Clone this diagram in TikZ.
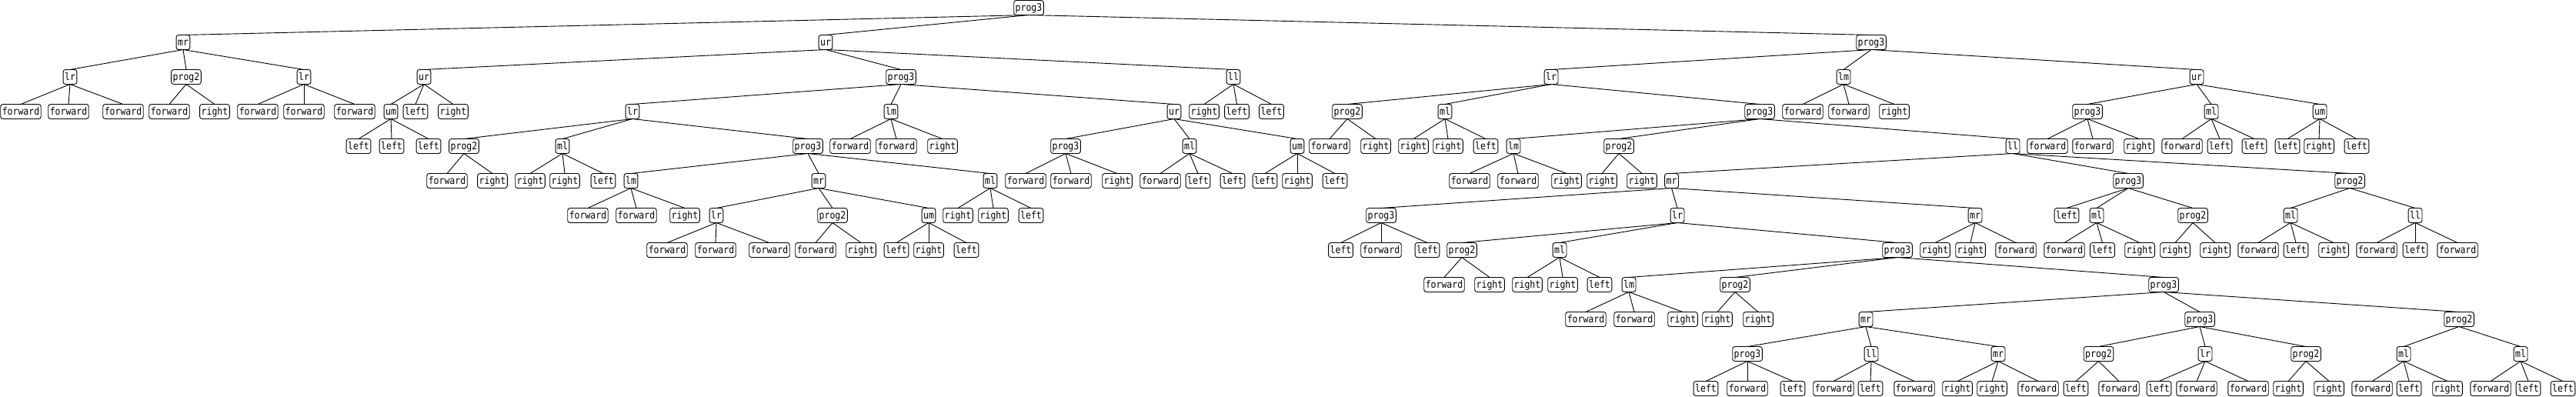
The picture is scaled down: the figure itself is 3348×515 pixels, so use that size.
\documentclass[tikz,border=0pt]{standalone}
\usepackage{fontspec}
\setmonofont{DejaVu Sans Mono}
\tikzset{
  tn/.style={draw, line width=0.9pt, rounded corners=3pt, font=\ttfamily\fontsize{11.5}{12}\selectfont,
    inner xsep=2pt, inner ysep=3pt, text height=11pt, text depth=2pt, outer sep=0pt},
  edge/.style={line width=0.9pt}
}
\newcommand\tn[5]{\node[tn] (#1) at ({#2},{10+45*#3}) {\scalebox{1}[1.15]{#4}};\draw[edge] (#5.south) -- (#1.north);}
\begin{document}
\begin{tikzpicture}[x=1pt,y=-1pt]
\useasboundingbox (0,0) rectangle (3348,515);
\node[tn] (r) at (1337,10) {\scalebox{1}[1.15]{prog3}};
% ---- A
\tn{a}{238}{1}{mr}{r}
\tn{a1}{91}{2}{lr}{a}
\tn{a11}{27}{3}{forward}{a1}
\tn{a12}{89}{3}{forward}{a1}
\tn{a13}{160}{3}{forward}{a1}
\tn{a2}{242}{2}{prog2}{a}
\tn{a21}{220}{3}{forward}{a2}
\tn{a22}{279}{3}{right}{a2}
\tn{a3}{395}{2}{lr}{a}
\tn{a31}{335}{3}{forward}{a3}
\tn{a32}{395}{3}{forward}{a3}
\tn{a33}{461}{3}{forward}{a3}
% ---- B
\tn{b}{1073}{1}{ur}{r}
\tn{b1}{551}{2}{ur}{b}
\tn{b11}{508}{3}{um}{b1}
\tn{b111}{466}{4}{left}{b11}
\tn{b112}{509}{4}{left}{b11}
\tn{b113}{557}{4}{left}{b11}
\tn{b12}{540}{3}{left}{b1}
\tn{b13}{589}{3}{right}{b1}
\tn{b2}{1171}{2}{prog3}{b}
\tn{b21}{822}{3}{lr}{b2}
\tn{b211}{603}{4}{prog2}{b21}
\tn{b2111}{581}{5}{forward}{b211}
\tn{b2112}{640}{5}{right}{b211}
\tn{b212}{731}{4}{ml}{b21}
\tn{b2121}{689}{5}{right}{b212}
\tn{b2122}{734}{5}{right}{b212}
\tn{b2123}{784}{5}{left}{b212}
\tn{b213}{1050}{4}{prog3}{b21}
\tn{b2131}{820}{5}{lm}{b213}
\tn{b21311}{764}{6}{forward}{b2131}
\tn{b21312}{827}{6}{forward}{b2131}
\tn{b21313}{890}{6}{right}{b2131}
\tn{b2132}{1064}{5}{mr}{b213}
\tn{b21321}{931}{6}{lr}{b2132}
\tn{b213211}{867}{7}{forward}{b21321}
\tn{b213212}{930}{7}{forward}{b21321}
\tn{b213213}{1000}{7}{forward}{b21321}
\tn{b21322}{1082}{6}{prog2}{b2132}
\tn{b213221}{1060}{7}{forward}{b21322}
\tn{b213222}{1119}{7}{right}{b21322}
\tn{b21323}{1207}{6}{um}{b2132}
\tn{b213231}{1165}{7}{left}{b21323}
\tn{b213232}{1207}{7}{right}{b21323}
\tn{b213233}{1256}{7}{left}{b21323}
\tn{b2133}{1287}{5}{ml}{b213}
\tn{b21331}{1245}{6}{right}{b2133}
\tn{b21332}{1291}{6}{right}{b2133}
\tn{b21333}{1340}{6}{left}{b2133}
\tn{b22}{1158}{3}{lm}{b2}
\tn{b221}{1105}{4}{forward}{b22}
\tn{b222}{1165}{4}{forward}{b22}
\tn{b223}{1225}{4}{right}{b22}
\tn{b23}{1526}{3}{ur}{b2}
\tn{b231}{1385}{4}{prog3}{b23}
\tn{b2311}{1333}{5}{forward}{b231}
\tn{b2312}{1392}{5}{forward}{b231}
\tn{b2313}{1452}{5}{right}{b231}
\tn{b232}{1546}{4}{ml}{b23}
\tn{b2321}{1508}{5}{forward}{b232}
\tn{b2322}{1557}{5}{left}{b232}
\tn{b2323}{1602}{5}{left}{b232}
\tn{b233}{1686}{4}{um}{b23}
\tn{b2331}{1644}{5}{left}{b233}
\tn{b2332}{1686}{5}{right}{b233}
\tn{b2333}{1735}{5}{left}{b233}
\tn{b3}{1603}{2}{ll}{b}
\tn{b31}{1565}{3}{right}{b3}
\tn{b32}{1607.5}{3}{left}{b3}
\tn{b33}{1652.5}{3}{left}{b3}
% ---- C
\tn{c}{2432}{1}{prog3}{r}
\tn{c1}{2016}{2}{lr}{c}
\tn{c11}{1751}{3}{prog2}{c1}
\tn{c111}{1728}{4}{forward}{c11}
\tn{c112}{1788}{4}{right}{c11}
\tn{c12}{1878}{3}{ml}{c1}
\tn{c121}{1837}{4}{right}{c12}
\tn{c122}{1882}{4}{right}{c12}
\tn{c123}{1931}{4}{left}{c12}
\tn{c13}{2287}{3}{prog3}{c1}
\tn{d1}{1967}{4}{lm}{c13}
\tn{d11}{1910}{5}{forward}{d1}
\tn{d12}{1973}{5}{forward}{d1}
\tn{d13}{2036}{5}{right}{d1}
\tn{d2}{2104}{4}{prog2}{c13}
\tn{d21}{2082}{5}{right}{d2}
\tn{d22}{2134}{5}{right}{d2}
\tn{d3}{2616}{4}{ll}{c13}
\tn{e1}{2172.5}{5}{mr}{d3}
\tn{e11}{1795}{6}{prog3}{e1}
\tn{e111}{1742.5}{7}{left}{e11}
\tn{e112}{1795}{7}{forward}{e11}
\tn{e113}{1855}{7}{left}{e11}
\tn{e12}{2180}{6}{lr}{e1}
\tn{f1}{1900}{7}{prog2}{e12}
\tn{f11}{1877}{8}{forward}{f1}
\tn{f12}{1936}{8}{right}{f1}
\tn{f2}{2027}{7}{ml}{e12}
\tn{f21}{1985}{8}{right}{f2}
\tn{f22}{2031}{8}{right}{f2}
\tn{f23}{2079}{8}{left}{f2}
\tn{f3}{2466}{7}{prog3}{e12}
\tn{g1}{2117}{8}{lm}{f3}
\tn{g11}{2061}{9}{forward}{g1}
\tn{g12}{2124}{9}{forward}{g1}
\tn{g13}{2187}{9}{right}{g1}
\tn{g2}{2255}{8}{prog2}{f3}
\tn{g21}{2232}{9}{right}{g2}
\tn{g22}{2285}{9}{right}{g2}
\tn{g3}{2812}{8}{prog3}{f3}
\tn{h1}{2425}{9}{mr}{g3}
\tn{h11}{2271}{10}{prog3}{h1}
\tn{h111}{2217}{11}{left}{h11}
\tn{h112}{2271}{11}{forward}{h11}
\tn{h113}{2330}{11}{left}{h11}
\tn{h12}{2432}{10}{ll}{h1}
\tn{h121}{2383}{11}{forward}{h12}
\tn{h122}{2431}{11}{left}{h12}
\tn{h123}{2488}{11}{forward}{h12}
\tn{h13}{2597}{10}{mr}{h1}
\tn{h131}{2544}{11}{right}{h13}
\tn{h132}{2589}{11}{right}{h13}
\tn{h133}{2649}{11}{forward}{h13}
\tn{h2}{2859}{9}{prog3}{g3}
\tn{h21}{2727.5}{10}{prog2}{h2}
\tn{h211}{2698}{11}{left}{h21}
\tn{h212}{2754}{11}{forward}{h21}
\tn{h22}{2866}{10}{lr}{h2}
\tn{h221}{2806}{11}{left}{h22}
\tn{h222}{2855}{11}{forward}{h22}
\tn{h223}{2922}{11}{forward}{h22}
\tn{h23}{2997}{10}{prog2}{h2}
\tn{h231}{2974}{11}{right}{h23}
\tn{h232}{3027}{11}{right}{h23}
\tn{h3}{3196}{9}{prog2}{g3}
\tn{h31}{3124}{10}{ml}{h3}
\tn{h311}{3083}{11}{forward}{h31}
\tn{h312}{3131}{11}{left}{h31}
\tn{h313}{3181}{11}{right}{h31}
\tn{h32}{3276}{10}{ml}{h3}
\tn{h321}{3237}{11}{forward}{h32}
\tn{h322}{3286}{11}{left}{h32}
\tn{h323}{3331}{11}{left}{h32}
\tn{e13}{2567}{6}{mr}{e1}
\tn{e131}{2515}{7}{right}{e13}
\tn{e132}{2561}{7}{right}{e13}
\tn{e133}{2620}{7}{forward}{e13}
\tn{e2}{2766}{5}{prog3}{d3}
\tn{e21}{2686}{6}{left}{e2}
\tn{e22}{2725}{6}{ml}{e2}
\tn{e221}{2683}{7}{forward}{e22}
\tn{e222}{2732.5}{7}{left}{e22}
\tn{e223}{2781}{7}{right}{e22}
\tn{e23}{2850}{6}{prog2}{e2}
\tn{e231}{2827}{7}{right}{e23}
\tn{e232}{2879}{7}{right}{e23}
\tn{e3}{3054}{5}{prog2}{d3}
\tn{e31}{2977}{6}{ml}{e3}
\tn{e311}{2935}{7}{forward}{e31}
\tn{e312}{2984}{7}{left}{e31}
\tn{e313}{3033}{7}{right}{e31}
\tn{e32}{3139}{6}{ll}{e3}
\tn{e321}{3089}{7}{forward}{e32}
\tn{e322}{3139}{7}{left}{e32}
\tn{e323}{3194}{7}{forward}{e32}
\tn{c2}{2396}{2}{lm}{c}
\tn{c21}{2343}{3}{forward}{c2}
\tn{c22}{2403}{3}{forward}{c2}
\tn{c23}{2462}{3}{right}{c2}
\tn{c3}{2855}{2}{ur}{c}
\tn{c31}{2713}{3}{prog3}{c3}
\tn{c311}{2661}{4}{forward}{c31}
\tn{c312}{2720}{4}{forward}{c31}
\tn{c313}{2780}{4}{right}{c31}
\tn{c32}{2874}{3}{ml}{c3}
\tn{c321}{2836}{4}{forward}{c32}
\tn{c322}{2885}{4}{left}{c32}
\tn{c323}{2930}{4}{left}{c32}
\tn{c33}{3015}{3}{um}{c3}
\tn{c331}{2973}{4}{left}{c33}
\tn{c332}{3014}{4}{right}{c33}
\tn{c333}{3063}{4}{left}{c33}
\end{tikzpicture}
\end{document}
